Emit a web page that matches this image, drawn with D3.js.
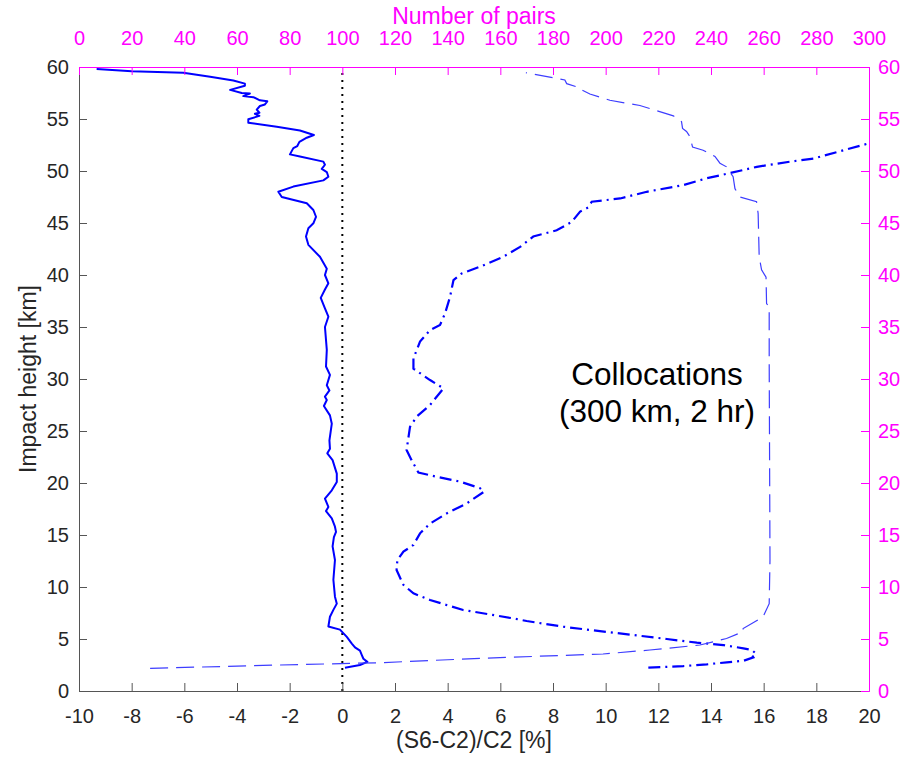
<!DOCTYPE html>
<html><head><meta charset="utf-8">
<script src="https://cdn.jsdelivr.net/npm/d3@7"></script>
<style>body{margin:0;background:#fff;} text{font-family:"Liberation Sans",Arial,Helvetica,sans-serif;}</style>
</head><body><svg id="c" width="906" height="758"></svg>
<script>
// (S6-C2)/C2 [%] mean difference profile (solid)
const diffPct = [-9.33,-8.0,-6.04,-5.02,-4.14,-3.70,-3.70,-4.26,-3.82,-3.51,-3.76,-3.38,-3.13,-2.85,-2.94,-3.13,-3.25,-3.15,-3.32,-3.15,-3.57,-3.57,-2.49,-1.61,-1.08,-1.35,-1.63,-1.71,-1.86,-1.99,-1.61,-0.72,-0.66,-0.78,-0.59,-0.53,-0.72,-1.86,-2.43,-2.30,-1.35,-1.10,-1.0,-1.1,-1.29,-1.38,-1.29,-0.85,-0.59,-0.66,-0.53,-0.66,-0.82,-0.66,-0.53,-0.66,-0.59,-0.62,-0.47,-0.59,-0.49,-0.66,-0.59,-0.70,-0.47,-0.40,-0.49,-0.47,-0.57,-0.37,-0.21,-0.21,-0.40,-0.66,-0.53,-0.62,-0.40,-0.28,-0.24,-0.32,-0.37,-0.28,-0.34,-0.28,-0.21,-0.34,-0.47,-0.53,-0.09,0.17,0.36,0.48,0.67,0.74,0.80,0.95,0.67,0.10];
const diffKm = [59.8,59.6,59.45,59.07,58.7,58.4,58.2,57.8,57.5,57.45,57.2,57.1,56.8,56.7,56.4,56.25,55.9,55.6,55.5,55.3,54.97,54.65,54.26,53.9,53.46,53.2,52.8,52.4,52.2,51.6,51.4,50.9,50.6,50.2,49.9,49.45,49.1,48.5,48.0,47.5,46.9,46.25,45.6,44.97,44.5,43.7,42.9,41.75,40.6,40.0,39.2,38.6,37.8,36.8,35.99,35.0,32.8,31.2,30.4,29.4,28.9,28.3,27.98,27.4,26.5,25.7,24.1,23.3,22.85,22.2,20.9,20.1,19.3,18.5,17.7,17.3,16.6,15.8,15.3,14.8,13.9,12.6,10.7,9.07,8.4,7.8,7.14,6.2,5.9,5.2,4.56,4.2,3.88,3.46,3.1,2.8,2.5,2.24];

// spread profile [%] (dash-dot)
const sdPct = [11.62,12.95,13.84,14.6,15.23,15.61,15.55,15.67,15.55,15.23,14.47,13.46,12.32,11.05,9.41,8.39,7.0,6.49,4.59,3.33,2.70,2.32,2.06,2.09,2.32,2.70,2.95,3.33,3.96,4.72,5.38,5.23,4.47,3.58,2.89,2.63,2.44,2.57,2.83,3.33,3.84,3.33,2.70,2.70,2.83,2.95,3.33,3.71,3.90,4.09,4.22,4.53,5.23,6.11,6.75,7.25,8.14,8.71,9.03,9.34,9.47,10.55,11.56,12.95,13.84,14.72,15.74,17.0,17.89,18.9,19.91,20.3];
const sdKm = [2.24,2.4,2.56,2.76,2.9,3.23,3.46,3.68,3.94,4.1,4.42,4.65,5.0,5.38,5.87,6.18,6.73,6.98,7.79,8.75,9.39,10.2,11.63,12.6,13.4,14.04,15.16,16.1,17.07,18.03,19.16,19.5,20.13,20.6,21.0,22.2,23.17,25.4,26.4,27.5,29.1,29.9,31.0,32.0,32.8,33.6,34.7,35.2,36.3,37.9,39.5,40.14,40.8,41.75,42.7,43.7,44.3,45.1,46.1,46.5,47.05,47.36,48.0,48.65,49.3,49.8,50.4,50.9,51.2,51.9,52.6,52.8];

// number of pairs (dashed, top axis)
const pairsN = [27.0,76.3,114.3,152.3,199.0,216.8,235.8,245.9,252.2,252.2,259.8,262.1,262.4,262.1,262.1,261.1,260.9,259.2,258.3,257.9,257.3,251.0,249.1,248.4,245.9,243.4,241.5,237.0,233.0,232.0,230.7,229.2,228.8,225.7,213.0,201.6,194.0,190.9,190.2,185.2,184.5,169.7];
const pairsKm = [2.18,2.5,2.72,3.14,3.56,3.94,4.42,5.05,5.7,6.0,7.14,8.4,12.6,31.8,36.95,37.25,39.8,40.5,41.75,45.9,47.05,47.5,48.3,49.45,50.4,50.75,51.4,52.0,52.3,53.3,53.8,54.1,54.75,55.3,56.3,56.8,57.4,57.8,58.0,58.4,58.75,59.45];

const bottomTicks = [-10,-8,-6,-4,-2,0,2,4,6,8,10,12,14,16,18,20];
const topTicks = [0,20,40,60,80,100,120,140,160,180,200,220,240,260,280,300];
const yTicks = [0,5,10,15,20,25,30,35,40,45,50,55,60];
const noteLines = ["Collocations","(300 km, 2 hr)"];

const L=79,R=869,T=67,B=691;
const svg=d3.select("#c");
const x=d3.scaleLinear().domain([-10,20]).range([L,R]);
const xTop=d3.scaleLinear().domain([0,300]).range([L,R]);
const y=d3.scaleLinear().domain([0,60]).range([B,T]);
const ink="#262626", axc="#555555", mag="#ff00ff";

svg.append("defs").append("clipPath").attr("id","clip").append("rect").attr("x",L).attr("y",T).attr("width",R-L).attr("height",B-T);

// zero line
svg.append("line").attr("x1",x(0)).attr("x2",x(0)).attr("y1",y(0)).attr("y2",y(60))
  .attr("stroke","#000").attr("stroke-width",2).attr("stroke-dasharray","2,5");

const g=svg.append("g").attr("clip-path","url(#clip)");
const line=(xs,ys,sx)=>d3.line().x((d,i)=>sx(xs[i])).y((d,i)=>y(ys[i]))(xs);
g.append("path").attr("d",line(diffPct,diffKm,x)).attr("fill","none").attr("stroke","#0000ff").attr("stroke-width",2).attr("stroke-linejoin","round");
g.append("path").attr("d",line(sdPct,sdKm,x)).attr("fill","none").attr("stroke","#0000ff").attr("stroke-width",2.2).attr("stroke-dasharray","12,5,2,5");
g.append("path").attr("d",line(pairsN,pairsKm,xTop)).attr("fill","none").attr("stroke","#3d3dff").attr("stroke-width",1.2).attr("stroke-dasharray","18,8");

// axes
const fmt=d=>String(d);
const ax1=svg.append("g").attr("transform",`translate(0,${B})`).call(d3.axisBottom(x).tickValues(bottomTicks).tickFormat(fmt).tickSizeInner(-8).tickSizeOuter(0).tickPadding(18));
const ax2=svg.append("g").attr("transform",`translate(${L},0)`).call(d3.axisLeft(y).tickValues(yTicks).tickFormat(fmt).tickSizeInner(-8).tickSizeOuter(0).tickPadding(10));
[ax1,ax2].forEach(a=>{a.selectAll("path,line").attr("stroke",axc);a.selectAll("text").attr("fill",ink).attr("font-size",20).attr("font-family","Liberation Sans, Arial, sans-serif");});
const ax3=svg.append("g").attr("transform",`translate(0,${T})`).call(d3.axisTop(xTop).tickValues(topTicks).tickFormat(fmt).tickSizeInner(-8).tickSizeOuter(0).tickPadding(22));
const ax4=svg.append("g").attr("transform",`translate(${R},0)`).call(d3.axisRight(y).tickValues(yTicks).tickFormat(fmt).tickSizeInner(-8).tickSizeOuter(0).tickPadding(9));
[ax3,ax4].forEach(a=>{a.selectAll("path,line").attr("stroke",mag);a.selectAll("text").attr("fill",mag).attr("font-size",20).attr("font-family","Liberation Sans, Arial, sans-serif");});

// axis labels
svg.append("text").attr("x",(L+R)/2).attr("y",748).attr("text-anchor","middle").attr("font-size",23).attr("fill",ink).text("(S6-C2)/C2 [%]");
svg.append("text").attr("x",(L+R)/2).attr("y",24).attr("text-anchor","middle").attr("font-size",23).attr("fill",mag).text("Number of pairs");
svg.append("text").attr("transform",`translate(36,${(T+B)/2}) rotate(-90)`).attr("text-anchor","middle").attr("font-size",23).attr("fill",ink).text("Impact height [km]");

// annotation
noteLines.forEach((t,i)=>svg.append("text").attr("x",657).attr("y",385+i*37).attr("text-anchor","middle").attr("font-size",31.5).attr("fill","#000").text(t));
</script></body></html>
